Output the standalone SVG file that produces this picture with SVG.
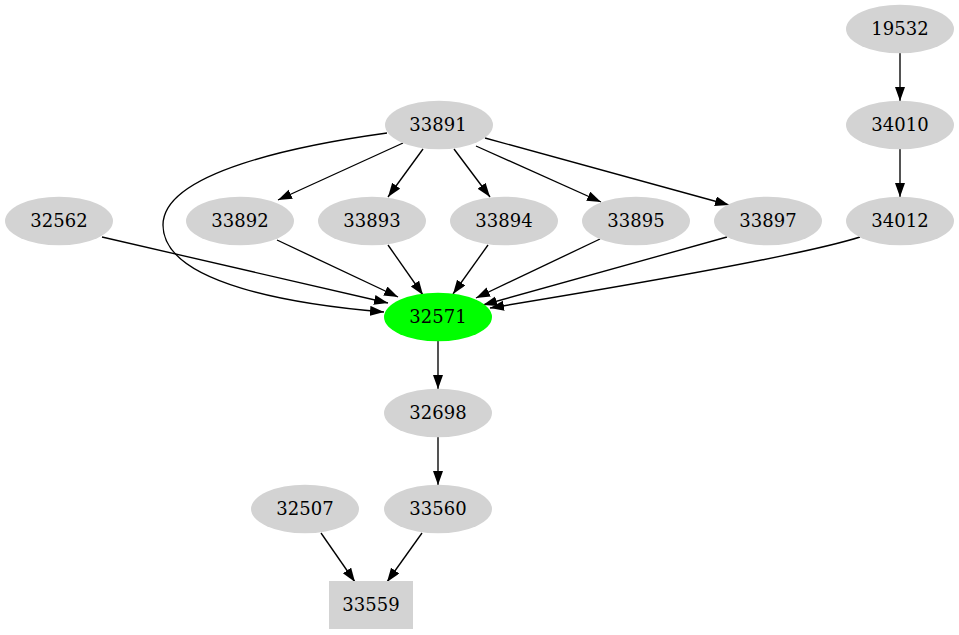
<svg xmlns="http://www.w3.org/2000/svg" width="959" height="635" viewBox="0 0 959 635">
<style>
.n ellipse,.n rect{fill:#d3d3d3;stroke:none}
.g ellipse{fill:#00ff00}
text{font-family:"DejaVu Serif","Liberation Serif",serif;font-size:18px;text-anchor:middle;fill:#000}
.e path{fill:none;stroke:#000;stroke-width:1.35}
</style>
<defs>
<marker id="ah" markerUnits="userSpaceOnUse" markerWidth="15" markerHeight="11" refX="14" refY="5" orient="auto">
<path d="M0,0 L14,5 L0,10 z" fill="#000"/>
</marker>
</defs>
<rect width="959" height="635" fill="#fff"/>
<g class="e">
<path d="M900,53 L900,101" marker-end="url(#ah)"/>
<path d="M900,149 L900,197" marker-end="url(#ah)"/>
<path d="M403,143 L278,200" marker-end="url(#ah)"/>
<path d="M423,149 L388,197" marker-end="url(#ah)"/>
<path d="M454,149 L490,197" marker-end="url(#ah)"/>
<path d="M476,146 L601,202" marker-end="url(#ah)"/>
<path d="M485,138 L729,205" marker-end="url(#ah)"/>
<path d="M387,133 C300,145 163,172 163,225 C163,285 300,305 384,312" marker-end="url(#ah)"/>
<path d="M102,237 L388,303" marker-end="url(#ah)"/>
<path d="M277,240 L398,297" marker-end="url(#ah)"/>
<path d="M388,245 L423,295" marker-end="url(#ah)"/>
<path d="M488,245 L453,294" marker-end="url(#ah)"/>
<path d="M600,239 L476,298" marker-end="url(#ah)"/>
<path d="M727,237 L483,305" marker-end="url(#ah)"/>
<path d="M860,237 C800,256 600,290 490,308" marker-end="url(#ah)"/>
<path d="M438,341 L438,389" marker-end="url(#ah)"/>
<path d="M438,437 L438,485" marker-end="url(#ah)"/>
<path d="M321,533 L355,582" marker-end="url(#ah)"/>
<path d="M422,533 L387,582" marker-end="url(#ah)"/>
</g>
<g id="n19532" class="n"><ellipse cx="900" cy="29" rx="54" ry="24.3"/><text x="900" y="35">19532</text></g>
<g id="n34010" class="n"><ellipse cx="900" cy="125" rx="54" ry="24.3"/><text x="900" y="131">34010</text></g>
<g id="n33891" class="n"><ellipse cx="439" cy="125" rx="54" ry="24.3"/><text x="438" y="131">33891</text></g>
<g id="n32562" class="n"><ellipse cx="59" cy="221" rx="54" ry="24.3"/><text x="59" y="227">32562</text></g>
<g id="n33892" class="n"><ellipse cx="240" cy="221" rx="54" ry="24.3"/><text x="240" y="227">33892</text></g>
<g id="n33893" class="n"><ellipse cx="372" cy="221" rx="54" ry="24.3"/><text x="372" y="227">33893</text></g>
<g id="n33894" class="n"><ellipse cx="504" cy="221" rx="54" ry="24.3"/><text x="504" y="227">33894</text></g>
<g id="n33895" class="n"><ellipse cx="636" cy="221" rx="54" ry="24.3"/><text x="636" y="227">33895</text></g>
<g id="n33897" class="n"><ellipse cx="768" cy="221" rx="54" ry="24.3"/><text x="768" y="227">33897</text></g>
<g id="n34012" class="n"><ellipse cx="900" cy="221" rx="54" ry="24.3"/><text x="900" y="227">34012</text></g>
<g id="n32571" class="n g"><ellipse cx="438" cy="317" rx="54" ry="24.3"/><text x="438" y="323">32571</text></g>
<g id="n32698" class="n"><ellipse cx="438" cy="413" rx="54" ry="24.3"/><text x="438" y="419">32698</text></g>
<g id="n32507" class="n"><ellipse cx="305" cy="509" rx="54" ry="24.3"/><text x="305" y="515">32507</text></g>
<g id="n33560" class="n"><ellipse cx="438" cy="509" rx="54" ry="24.3"/><text x="438" y="515">33560</text></g>
<g id="n33559" class="n"><rect x="329" y="581" width="84" height="48"/><text x="371" y="611">33559</text></g>
</svg>
